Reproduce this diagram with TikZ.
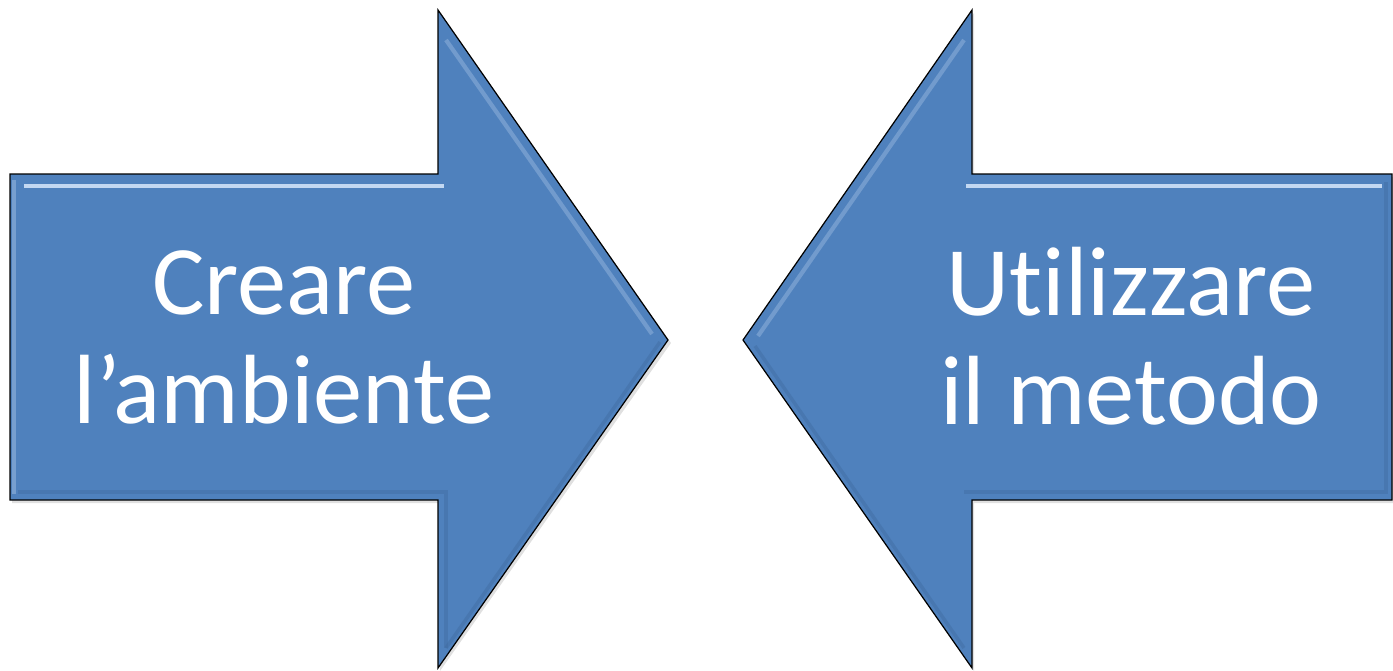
\documentclass[tikz,border=0pt]{standalone}
\usepackage{fontspec}
\setmainfont[Ligatures=NoCommon]{Carlito}
\usetikzlibrary{positioning}
\definecolor{arrowBlue}{HTML}{4F81BD}
\definecolor{bevelLight}{HTML}{C3D8F2}
\definecolor{bevelDark}{HTML}{3E6A9E}

\tikzset{
  arrowFill/.style={fill=arrowBlue},
  arrowEdge/.style={draw=black, line width=0.7pt, line join=miter},
  arrowShadow/.style={fill=black, opacity=0.12},
  bevelTop/.style={draw=bevelLight, line width=2.4pt},
  bevelLow/.style={draw=bevelDark, line width=2pt, opacity=0.4},
  arrowText/.style={text=white, font=\fontsize{56}{62}\selectfont, align=center}
}

\begin{document}
\begin{tikzpicture}[x=0.02cm, y=-0.02cm]
    \useasboundingbox (0,0) rectangle (1393,670);

    % left arrow
    \fill[arrowShadow] (12,177) -- (440,177) -- (440,13) -- (671,343) -- (440,671) -- (440,503) -- (12,503) -- cycle;
    \fill[arrowFill] (10,174) -- (438,174) -- (438,10) -- (668,340) -- (438,668) -- (438,500) -- (10,500) -- cycle;
    \begin{scope}
        \clip (10,174) -- (438,174) -- (438,10) -- (668,340) -- (438,668) -- (438,500) -- (10,500) -- cycle;
        \draw[bevelTop] (24,186) -- (444,186);
        \draw[bevelTop, opacity=0.35] (14,180) -- (14,494);
        \draw[bevelTop, opacity=0.3] (446,40) -- (652,334);
        \draw[bevelLow] (18,492) -- (446,492) -- (446,648);
        \draw[bevelLow] (446,648) -- (660,342);
    \end{scope}
    \draw[arrowEdge] (10,174) -- (438,174) -- (438,10) -- (668,340) -- (438,668) -- (438,500) -- (10,500) -- cycle;

    % right arrow
    \fill[arrowShadow] (746,343) -- (974,13) -- (974,177) -- (1395,177) -- (1395,503) -- (974,503) -- (974,671) -- cycle;
    \fill[arrowFill] (743,340) -- (972,10) -- (972,174) -- (1392,174) -- (1392,500) -- (972,500) -- (972,668) -- cycle;
    \begin{scope}
        \clip (743,340) -- (972,10) -- (972,174) -- (1392,174) -- (1392,500) -- (972,500) -- (972,668) -- cycle;
        \draw[bevelTop] (966,186) -- (1382,186);
        \draw[bevelTop, opacity=0.3] (758,336) -- (964,40);
        \draw[bevelLow] (964,492) -- (1386,492) -- (1386,182);
        \draw[bevelLow] (755,346) -- (964,648);
    \end{scope}
    \draw[arrowEdge] (743,340) -- (972,10) -- (972,174) -- (1392,174) -- (1392,500) -- (972,500) -- (972,668) -- cycle;

    % labels
    \node (creare) [arrowText] at (284,337) {Creare\\l’ambiente};
    \node (utilizzare) [arrowText] at (1131,336) {Utilizzare\\il metodo};
\end{tikzpicture}
\end{document}
